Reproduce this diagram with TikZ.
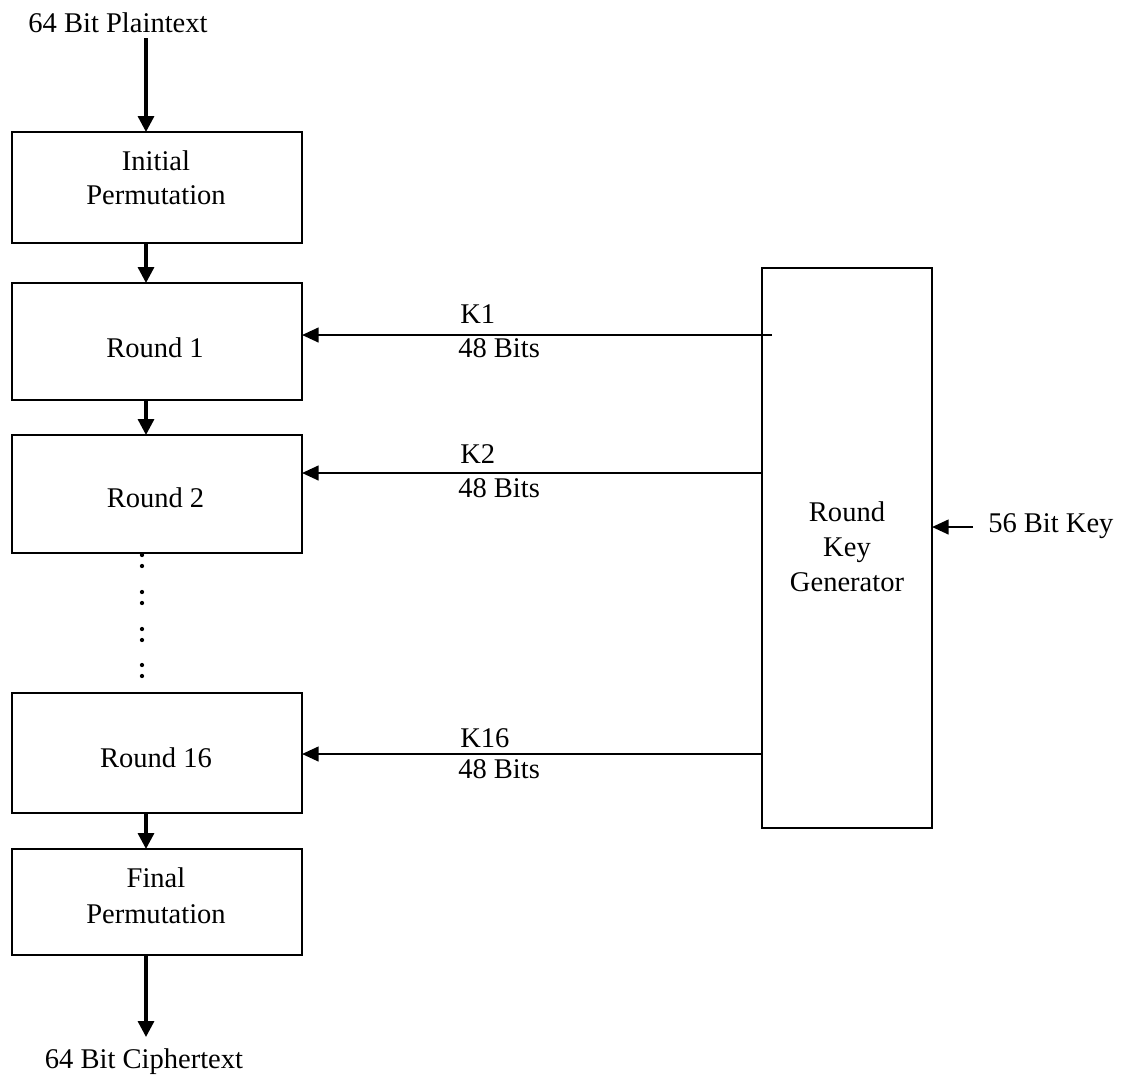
\documentclass[tikz,border=0pt]{standalone}
\usepackage{fontspec}
\setmainfont{Liberation Serif}
\usetikzlibrary{arrows.meta}
\begin{document}
\begin{tikzpicture}[x=0.75pt,y=-0.75pt,
  box/.style={draw, line width=1.6pt, rectangle, inner sep=0pt, outer sep=0pt, minimum width=217.5pt},
  lbl/.style={font=\fontsize{21.4}{25}\selectfont, inner sep=0pt, anchor=base},
  lblw/.style={lbl, anchor=base west},
  flow/.style={line width=2.5pt, -{Triangle[length=12pt,width=12pt]}},
  keyline/.style={line width=1.8pt, -{Triangle[length=12.5pt,width=11pt]}},
  dotmark/.style={circle, fill, inner sep=0pt, minimum size=3.2pt}]

\useasboundingbox (0,0) rectangle (1123,1075);

% cipher pipeline boxes
\node[box, minimum height=83.25pt] (ip)  at (157,187.5) {};
\node[box, minimum height=87.75pt] (r1)  at (157,341.5) {};
\node[box, minimum height=88.5pt]  (r2)  at (157,494)   {};
\node[box, minimum height=90pt]    (r16) at (157,753)   {};
\node[box, minimum height=79.5pt]  (fp)  at (157,902)   {};

% key schedule box
\node[box, minimum width=127.5pt, minimum height=420pt] (rkg) at (847,548) {};

% box texts
\node[lbl] (ipa) at (156,170) {Initial};
\node[lbl] (ipb) at (156,204) {Permutation};
\node[lbl] (r1t) at (155,357) {Round 1};
\node[lbl] (r2t) at (155.5,507) {Round 2};
\node[lbl] (r16t) at (156,767) {Round 16};
\node[lbl] (fpa) at (156,887) {Final};
\node[lbl] (fpb) at (156,923) {Permutation};
\node[lbl] (rkga) at (847,521) {Round};
\node[lbl] (rkgb) at (847,556) {Key};
\node[lbl] (rkgc) at (847,591) {Generator};

% input / output
\node[lbl] (plain) at (118,32) {64 Bit Plaintext};
\node[lbl] (cipher) at (144,1068) {64 Bit Ciphertext};
\node[lblw] (keytxt) at (988,532) {56 Bit Key};
\coordinate (pt) at (146,38);
\coordinate (ctend) at (146,1037);
\coordinate (keyin) at (973,527);

% main data flow
\draw[flow] (pt) -- (pt |- ip.north);
\draw[flow] (ip.south -| pt) -- (r1.north -| pt);
\draw[flow] (r1.south -| pt) -- (r2.north -| pt);
\draw[flow] (r16.south -| pt) -- (fp.north -| pt);
\draw[flow] (fp.south -| pt) -- (ctend);

% skipped rounds
\foreach \yy [count=\i] in {555,566,592,603,629,640,665,676}
  \node[dotmark] (gap\i) at (142,\yy) {};

% round keys
\coordinate (k1s) at (772,335);
\draw[keyline] (k1s) -- (k1s -| r1.east);
\draw[keyline] (rkg.west |- 0,473) -- (r2.east |- 0,473);
\draw[keyline] (rkg.west |- 0,754) -- (r16.east |- 0,754);
\draw[keyline] (keyin) -- (keyin -| rkg.east);

\node[lblw] (k1)  at (460,323) {K1};
\node[lblw] (k1b) at (458,357) {48 Bits};
\node[lblw] (k2)  at (460,463) {K2};
\node[lblw] (k2b) at (458,497) {48 Bits};
\node[lblw] (k16) at (460,747) {K16};
\node[lblw] (k16b) at (458,778) {48 Bits};
\end{tikzpicture}
\end{document}
